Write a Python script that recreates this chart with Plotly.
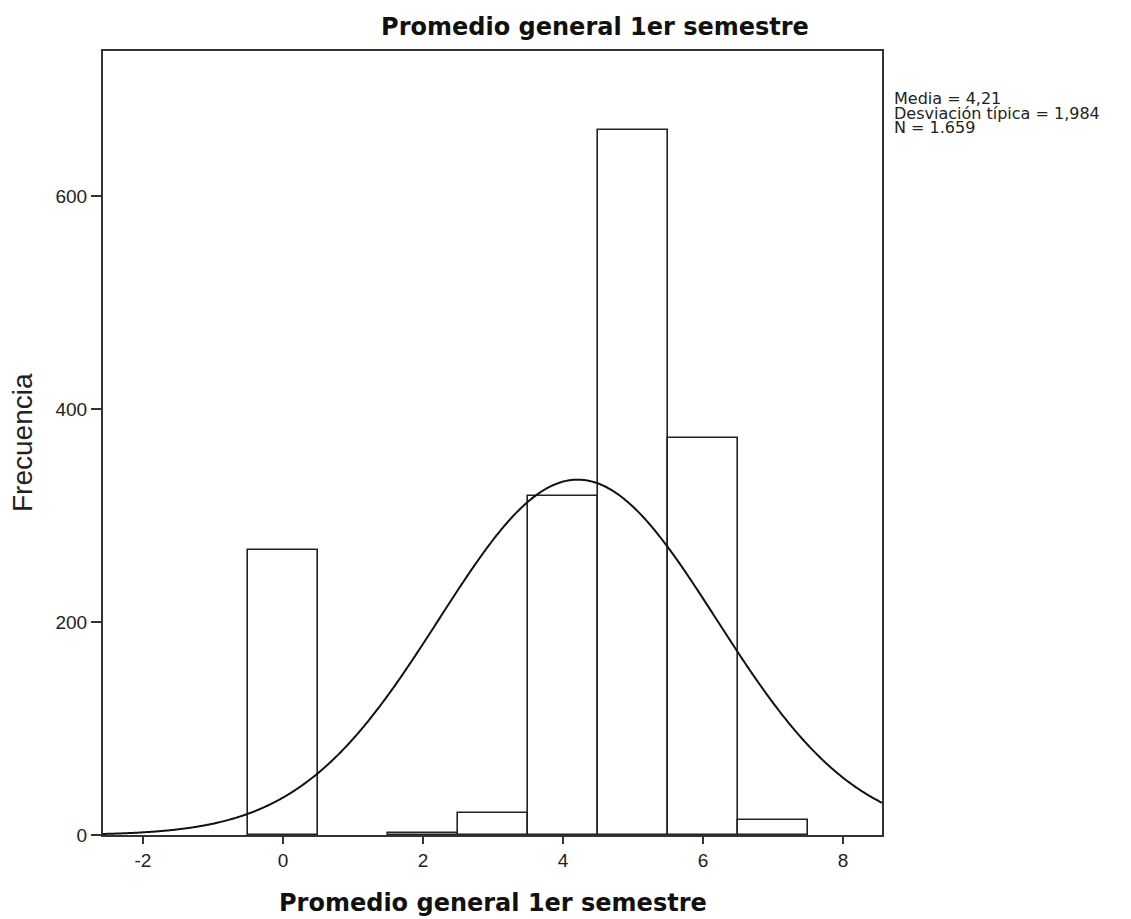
import numpy as np
import plotly.graph_objects as go

# ---- data ----
bin_centers = [0, 2, 3, 4, 5, 6, 7]
counts = [268, 2, 21, 318, 662, 373, 14]
bin_width = 1.0
MEAN = 4.21
SD = 1.984
N = 1659
x_ticks = [-2, 0, 2, 4, 6, 8]
y_ticks = [0, 200, 400, 600]
stats_lines = ["Media = 4,21", "Desviación típica = 1,984", "N = 1.659"]
title_text = "Promedio general 1er semestre"
x_title = "Promedio general 1er semestre"
y_title = "Frecuencia"

X_RANGE = [-2.571, 8.557]
Y_RANGE = [0, 736]

# normal curve implied by the displayed statistics
xc = np.linspace(X_RANGE[0], X_RANGE[1], 800)
yc = N * bin_width / (SD * np.sqrt(2 * np.pi)) * np.exp(-0.5 * ((xc - MEAN) / SD) ** 2)

# the page body adds an 8 px offset; figure pixels = page pixels - 8
OFF = 8
W, H = 1131 - OFF, 919 - OFF
L, T = 103 - OFF, 51 - OFF
PR, PB = 882 - OFF, 835 - OFF          # plot right / bottom in figure px
R, B = W - PR, H - PB
pw, ph = PR - L, PB - T

fig = go.Figure()
fig.add_trace(go.Bar(
    x=bin_centers, y=counts, width=[bin_width] * len(bin_centers),
    marker=dict(color="white", line=dict(color="#222222", width=1.6)),
    showlegend=False, hoverinfo="x+y",
))
fig.add_trace(go.Scatter(
    x=xc, y=yc, mode="lines",
    line=dict(color="#111111", width=2, simplify=False),
    showlegend=False, hoverinfo="skip",
))

tickfont = dict(family="Liberation Sans, Arial, sans-serif", size=19, color="#222222")
axis_common = dict(
    showgrid=False, zeroline=False, showline=True, linecolor="#333333", linewidth=2,
    mirror=True, ticks="outside", tickcolor="#333333", tickwidth=2, tickfont=tickfont,
)

fig.update_layout(
    width=W, height=H,
    margin=dict(l=L, r=R, t=T, b=B, pad=0),
    paper_bgcolor="white", plot_bgcolor="white",
    bargap=0,
    title=dict(
        text=title_text, x=(595 - OFF) / W, xanchor="center",
        y=1 - (27 - OFF) / H, yanchor="middle",
        font=dict(family="DejaVu Sans", size=24, color="#111111", weight="bold"),
    ),
    xaxis=dict(range=X_RANGE, tickvals=x_ticks, ticktext=[str(v) for v in x_ticks],
               ticklen=7, **axis_common),
    yaxis=dict(range=Y_RANGE, tickvals=y_ticks, ticktext=[str(v) for v in y_ticks],
               ticklen=10, **axis_common),
)

# x-axis title
fig.add_annotation(
    text=x_title, xref="paper", yref="paper", x=0.5, y=-((903 - OFF) - PB) / ph,
    xanchor="center", yanchor="middle", showarrow=False,
    font=dict(family="DejaVu Sans", size=24, color="#111111", weight="bold"),
)
# y-axis title
fig.add_annotation(
    text=y_title, xref="paper", yref="paper", x=((22 - OFF) - L) / pw, y=0.5,
    xanchor="center", yanchor="middle", textangle=-90, showarrow=False,
    font=dict(family="Liberation Sans, Arial, sans-serif", size=28, color="#222222"),
)
# statistics box text
for i, line in enumerate(stats_lines):
    ypx = 98 + 15 * i - OFF
    fig.add_annotation(
        text=line, xref="paper", yref="paper", x=((893 - OFF) - L) / pw,
        y=1 - (ypx - T) / ph,
        xanchor="left", yanchor="middle", showarrow=False, borderpad=0,
        font=dict(family="DejaVu Sans", size=16, color="#222222"),
    )

fig.write_html("out.html")
